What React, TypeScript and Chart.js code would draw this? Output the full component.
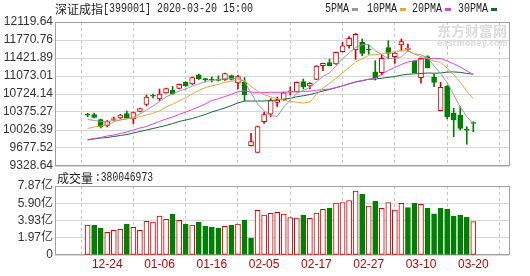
import React, { useEffect, useRef } from "react";
import { Chart, registerables } from "chart.js";

Chart.register(...registerables);

// ---------------- data ----------------
const indexName = "深证成指";
const indexCode = "399001";
const quoteTime = "2020-03-20 15:00";

const dates = [
  "12-19","12-20","12-23","12-24","12-25","12-26","12-27","12-30","12-31","01-02",
  "01-03","01-06","01-07","01-08","01-09","01-10","01-13","01-14","01-15","01-16",
  "01-17","01-20","01-21","01-22","01-23","02-03","02-04","02-05","02-06","02-07",
  "02-10","02-11","02-12","02-13","02-14","02-17","02-18","02-19","02-20","02-21",
  "02-24","02-25","02-26","02-27","02-28","03-02","03-03","03-04","03-05","03-06",
  "03-09","03-10","03-11","03-12","03-13","03-16","03-17","03-18","03-19","03-20",
];

const openPx = [
  10317,10327,10230,10114,10230,10259,10346,10240,10385,10521,
  10689,10627,10744,10802,10831,10951,10918,11098,11009,11007,
  10999,10995,11083,10941,10957,9722,9594,10187,10331,10563,
  10608,10763,10769,10963,10879,11009,11273,11331,11306,11544,
  11660,11577,11726,11585,11156,11137,11622,11447,11674,11587,
  11364,11040,11447,11048,10400,10879,10350,10317,10030,10156,
];
const highPx = [
  10350,10356,10240,10211,10278,10327,10395,10375,10453,10705,
  10724,10821,10840,10870,10918,10966,11054,11112,11028,11054,
  11073,11131,11092,11092,11044,9962,10104,10369,10637,10666,
  10763,10866,10957,11015,10947,11277,11325,11403,11538,11726,
  11835,11901,11790,11674,11370,11480,11757,11525,11790,11693,
  11373,11422,11466,11106,10951,10889,10447,10478,10090,10187,
];
const lowPx = [
  10284,10259,10065,10085,10201,10249,10249,10152,10375,10492,
  10647,10598,10738,10714,10821,10870,10908,11005,10957,10957,
  10976,10986,10995,10821,10588,9716,9590,10156,10284,10482,
  10598,10705,10763,10821,10821,11005,11176,11267,11296,11538,
  11610,11397,11466,11494,10995,11092,11403,11319,11558,11544,
  11131,10932,11228,10866,10395,10240,9897,10026,9749,9993,
];
const closePx = [
  10313,10269,10085,10191,10243,10317,10259,10366,10443,10666,
  10680,10724,10831,10724,10912,10885,11044,11015,11003,10995,
  10988,11121,11005,11063,10705,9800,10094,10327,10598,10608,
  10749,10776,10951,10866,10932,11267,11319,11273,11532,11660,
  11804,11881,11513,11577,11040,11416,11513,11519,11738,11610,
  11137,11416,11234,10951,10854,10284,10220,10059,10023,10152,
];
const prevClose = 10290; // close of the session before 12-19

const ma5 = [
  10230,10211,10191,10191,10211,10220,10240,10278,10337,10414,
  10492,10579,10666,10724,10782,10821,10879,10918,10966,10986,
  11005,11025,11025,11034,10966,10744,10530,10395,10307,10288,
  10472,10608,10734,10792,10854,10957,11067,11131,11265,11410,
  11517,11629,11678,11687,11563,11486,11412,11412,11445,11560,
  11503,11484,11428,11269,11118,10947,10709,10474,10288,10148,
];
const ma10 = [
  10055,10085,10104,10123,10181,10220,10249,10259,10288,10315,
  10352,10397,10472,10525,10592,10649,10728,10792,10848,10881,
  10912,10951,10968,11003,10982,10873,10778,10711,10670,10631,
  10608,10573,10567,10548,10569,10716,10838,10933,11027,11133,
  11238,11348,11404,11476,11486,11501,11521,11546,11565,11561,
  11494,11447,11420,11358,11339,11226,11096,10951,10778,10633,
];
const ma20 = [
  9842,9862,9881,9910,9929,9959,9988,10026,10065,10094,
  10143,10191,10240,10278,10327,10375,10424,10472,10530,10598,
  10631,10674,10720,10765,10788,10761,10753,10751,10759,10755,
  10759,10763,10769,10775,10776,10796,10809,10821,10848,10881,
  10922,10961,10986,11011,11028,11110,11180,11240,11296,11346,
  11366,11399,11412,11416,11412,11364,11309,11247,11172,11098,
];
const ma30 = [
  9833,9852,9871,9881,9900,9920,9939,9968,9997,10026,
  10055,10085,10114,10152,10191,10220,10249,10288,10327,10375,
  10414,10453,10501,10550,10588,10588,10588,10588,10598,10610,
  10623,10641,10670,10691,10714,10747,10782,10811,10848,10881,
  10920,10957,10980,11009,11013,11030,11046,11063,11089,11108,
  11114,11123,11131,11127,11131,11149,11152,11143,11123,11110,
];

// volume in 亿 (1e8 shares)
const volume = [
  3.42,3.42,3.05,2.59,2.82,2.93,3.54,3.16,2.82,3.84,
  3.76,4.45,4.07,4.68,3.96,3.54,3.42,3.76,3.31,3.19,
  3.08,3.27,3.42,3.54,3.99,1.94,5.10,4.56,4.76,4.87,
  4.68,4.28,4.22,4.56,4.19,4.79,5.21,5.36,5.93,5.99,
  6.22,7.30,6.93,5.59,6.16,5.33,5.97,5.11,5.90,5.40,
  5.90,5.79,5.33,4.70,5.33,5.21,4.45,4.54,4.31,3.80046973,
];

const priceTickLabels = ["9328.64","9677.52","10026.39","10375.27","10724.14","11073.01","11421.89","11770.76","12119.64"];
const volTickLabels = ["0","1.97亿","3.93亿","5.90亿","7.87亿"];
const volTickValues = [0, 1.97, 3.93, 5.90, 7.87];
const xTickLabels = ["12-24","01-06","01-16","02-05","02-17","02-27","03-10","03-20"];
const maNames = ["5PMA", "10PMA", "20PMA", "30PMA"];

// ---------------- styles ----------------
const UP = "#d40000";
const DOWN = "#008000";
const MA_COLORS = ["#9a9a9a", "#eca53a", "#e040e0", "#17693a"];
const X_MIN = -0.65;
const X_MAX = 60.12;
const FRAME = "#a0a0a0";
const HGRID = "#d6d6d6";
const VGRID = "#c4c4c4";
const LABEL = "#333333";

const idx = dates.map((_, i) => i);
const candleUp = (i: number) => closePx[i] > openPx[i];
const volUp = (i: number) => closePx[i] >= (i === 0 ? prevClose : closePx[i - 1]);
const xTickIdx = xTickLabels.map((l) => dates.indexOf(l));
const priceTickValues = priceTickLabels.map((s) => parseFloat(s));

function drawFrame(chart: any) {
  const { ctx, chartArea } = chart;
  ctx.save();
  ctx.strokeStyle = FRAME;
  ctx.lineWidth = 1;
  ctx.strokeRect(
    Math.round(chartArea.left) + 0.5,
    Math.round(chartArea.top) + 0.5,
    Math.round(chartArea.right - chartArea.left),
    Math.round(chartArea.bottom - chartArea.top) - 1
  );
  ctx.restore();
}

const mainPlugin = {
  id: "mainDecor",
  beforeDatasetsDraw(chart: any) {
    const ctx = chart.ctx;
    ctx.save();
    ctx.fillStyle = "#dcdcdc";
    ctx.textBaseline = "middle";
    ctx.font = "bold 14px 'Noto Sans CJK SC'";
    ctx.fillText("东方财富网", 437, 31, 71);
    ctx.font = "bold 9px 'DejaVu Sans'";
    ctx.fillText("eastmoney.com", 437, 44, 71);
    ctx.restore();
    drawFrame(chart);
  },
  afterDraw(chart: any) {
    const ctx = chart.ctx;
    ctx.save();
    ctx.textBaseline = "middle";
    ctx.fillStyle = "#222";
    ctx.font = "12px 'Noto Sans CJK SC'";
    ctx.fillText(indexName, 55, 9);
    ctx.font = "12px 'Liberation Mono'";
    const rest = `[${indexCode}] ${quoteTime}`;
    ctx.fillText(rest, 103, 9, rest.length * 6);
    // MA legend
    const textX = [325, 367, 412, 458];
    maNames.forEach((name, k) => {
      ctx.fillStyle = "#222";
      ctx.font = "12px 'Liberation Mono'";
      ctx.fillText(name, textX[k], 9, name.length * 6);
      ctx.fillStyle = MA_COLORS[k];
      ctx.fillRect(textX[k] + name.length * 6 + 3, 8, 6, 3);
    });
    ctx.restore();
  },
};

const volPlugin = {
  id: "volDecor",
  beforeDatasetsDraw(chart: any) {
    drawFrame(chart);
  },
  afterDraw(chart: any) {
    const ctx = chart.ctx;
    ctx.save();
    ctx.textBaseline = "middle";
    ctx.fillStyle = "#222";
    ctx.font = "12px 'Noto Sans CJK SC'";
    ctx.fillText("成交量", 57, 8);
    ctx.font = "12px 'Liberation Mono'";
    const v = ":" + String(Math.round(volume[volume.length - 1] * 1e8));
    ctx.fillText(v, 95, 8, v.length * 5.8);
    ctx.restore();
  },
};

function xScale(showTicks: boolean) {
  return {
    type: "linear",
    min: X_MIN,
    max: X_MAX,
    afterBuildTicks: (s: any) => {
      s.ticks = xTickIdx.map((v) => ({ value: v }));
    },
    afterFit: (s: any) => {
      s.height = showTicks ? 21 : 0;
      s.paddingLeft = 0;
      s.paddingRight = 0;
    },
    ticks: showTicks
      ? {
          autoSkip: false,
          maxRotation: 0,
          minRotation: 0,
          padding: 2,
          color: "#c00000",
          font: { family: "'Liberation Sans'", size: 12 },
          callback: (v: any) => dates[v],
        }
      : { display: false },
    grid: { drawTicks: false, color: VGRID, lineWidth: 1 },
    border: { display: false, dash: [3, 3] },
  };
}

function mainConfig(): any {
  return {
    type: "bar",
    data: {
      datasets: [
        ...[ma5, ma10, ma20, ma30].map((arr, k) => ({
          type: "line",
          label: maNames[k],
          data: arr.map((v, i) => ({ x: i, y: v })),
          borderColor: MA_COLORS[k],
          borderWidth: 1,
          pointRadius: 0,
          pointHoverRadius: 0,
          tension: 0,
          fill: false,
          order: 0,
        })),
        {
          type: "bar",
          label: "body",
          data: idx.map((i) => ({ x: i, y: [openPx[i], closePx[i]] })),
          backgroundColor: idx.map((i) => (candleUp(i) ? "#ffffff" : DOWN)),
          borderColor: idx.map((i) => (candleUp(i) ? UP : DOWN)),
          borderWidth: 1,
          borderSkipped: false,
          barThickness: 5,
          minBarLength: 1,
          grouped: false,
          order: 1,
        },
        {
          type: "bar",
          label: "wick",
          data: idx.map((i) => ({ x: i, y: [lowPx[i], highPx[i]] })),
          backgroundColor: idx.map((i) => (candleUp(i) ? UP : DOWN)),
          borderWidth: 0,
          barThickness: 1,
          grouped: false,
          order: 2,
        },
      ],
    },
    options: {
      responsive: false,
      animation: false,
      events: [],
      layout: { padding: { top: 22, right: 21, bottom: 4, left: 0 } },
      plugins: { legend: { display: false }, tooltip: { enabled: false }, title: { display: false } },
      scales: {
        x: xScale(false),
        y: {
          type: "linear",
          min: priceTickValues[0],
          max: priceTickValues[priceTickValues.length - 1],
          afterBuildTicks: (s: any) => {
            s.ticks = priceTickValues.map((v) => ({ value: v }));
          },
          afterFit: (s: any) => {
            s.width = 55;
            s.paddingTop = 0;
            s.paddingBottom = 0;
          },
          ticks: {
            autoSkip: false,
            padding: 2,
            color: LABEL,
            font: { family: "'Liberation Sans'", size: 12 },
            callback: (_v: any, i: number) => priceTickLabels[i],
          },
          grid: { drawTicks: false, color: HGRID, lineWidth: 1 },
          border: { display: false },
        },
      },
    },
    plugins: [mainPlugin],
  };
}

function volConfig(): any {
  return {
    type: "bar",
    data: {
      datasets: [
        {
          label: "成交量",
          data: idx.map((i) => ({ x: i, y: volume[i] })),
          backgroundColor: idx.map((i) => (volUp(i) ? "#ffffff" : DOWN)),
          borderColor: idx.map((i) => (volUp(i) ? UP : DOWN)),
          borderWidth: 1,
          borderSkipped: false,
          barThickness: 5,
          grouped: false,
        },
      ],
    },
    options: {
      responsive: false,
      animation: false,
      events: [],
      layout: { padding: { top: 16, right: 21, bottom: 0, left: 0 } },
      plugins: { legend: { display: false }, tooltip: { enabled: false }, title: { display: false } },
      scales: {
        x: xScale(true),
        y: {
          type: "linear",
          min: volTickValues[0],
          max: volTickValues[volTickValues.length - 1],
          afterBuildTicks: (s: any) => {
            s.ticks = volTickValues.map((v) => ({ value: v }));
          },
          afterFit: (s: any) => {
            s.width = 55;
            s.paddingTop = 0;
            s.paddingBottom = 0;
          },
          ticks: {
            autoSkip: false,
            padding: 2,
            color: LABEL,
            font: { family: "'Liberation Sans', 'Noto Sans CJK SC'", size: 12 },
            callback: (_v: any, i: number) => volTickLabels[i],
          },
          grid: { drawTicks: false, color: HGRID, lineWidth: 1 },
          border: { display: false },
        },
      },
    },
    plugins: [volPlugin],
  };
}

export default function App() {
  const mainRef = useRef<HTMLCanvasElement>(null);
  const volRef = useRef<HTMLCanvasElement>(null);

  useEffect(() => {
    const c1 = new Chart(mainRef.current as HTMLCanvasElement, mainConfig());
    const c2 = new Chart(volRef.current as HTMLCanvasElement, volConfig());
    return () => {
      c1.destroy();
      c2.destroy();
    };
  }, []);

  return (
    <div
      style={{
        position: "absolute",
        left: 0,
        top: 0,
        width: 530,
        height: 276,
        background: "#ffffff",
        overflow: "hidden",
      }}
    >
      <canvas
        ref={mainRef}
        width={530}
        height={170}
        style={{ position: "absolute", left: 0, top: 0, width: 530, height: 170 }}
      />
      <canvas
        ref={volRef}
        width={530}
        height={106}
        style={{ position: "absolute", left: 0, top: 170, width: 530, height: 106 }}
      />
    </div>
  );
}
